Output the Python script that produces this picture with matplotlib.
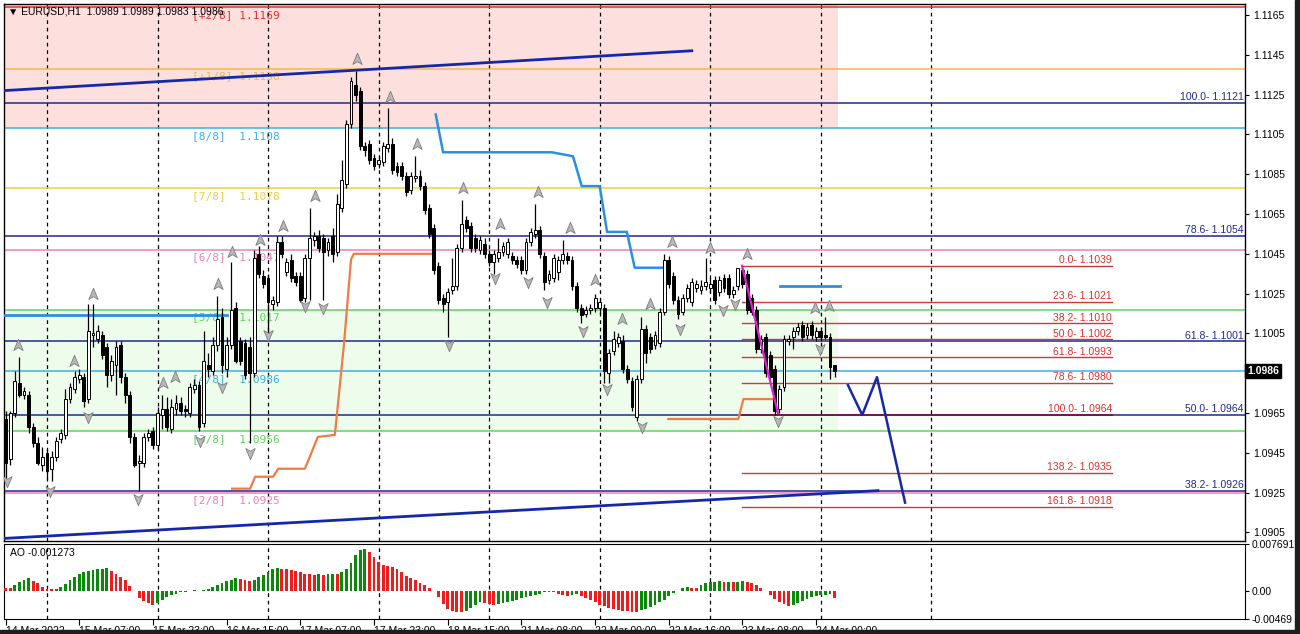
import numpy as np
import matplotlib
matplotlib.use("Agg")
import matplotlib.pyplot as plt
from matplotlib.path import Path
from matplotlib.patches import Rectangle
from matplotlib.transforms import blended_transform_factory

W, H = 1300, 634

# ---- H1 candles (bar index 0..180) ----
opens = [1.0962, 1.0942, 1.0965, 1.0980, 1.0974, 1.0974, 1.0958, 1.0950, 1.0939, 1.0945,
         1.0937, 1.0943, 1.0952, 1.0954, 1.0972, 1.0977, 1.0982, 1.0983, 1.0972, 1.1004,
         1.1002, 1.1004, 1.0998, 1.0984, 1.0989, 1.0999, 1.0983, 1.0974, 1.0953, 1.0940,
         1.0940, 1.0953, 1.0956, 1.0949, 1.0964, 1.0967, 1.0957, 1.0967, 1.0970, 1.0967,
         1.0965, 1.0977, 1.0979, 1.0960, 1.0989, 1.0986, 1.0999, 1.1013, 1.0987, 1.0999,
         1.1018, 1.1001, 1.1000, 1.0998, 1.0985, 1.1045, 1.1034, 1.1033, 1.1020, 1.1021,
         1.1051, 1.1036, 1.1042, 1.1034, 1.1034, 1.1023, 1.1043, 1.1052, 1.1054, 1.1053,
         1.1047, 1.1054, 1.1046, 1.1068, 1.1080, 1.1110, 1.1130, 1.1127, 1.1099, 1.1100,
         1.1093, 1.1090, 1.1091, 1.1098, 1.1100, 1.1089, 1.1089, 1.1084, 1.1077, 1.1083,
         1.1084, 1.1079, 1.1068, 1.1058, 1.1039, 1.1023, 1.1021, 1.1027, 1.1029, 1.1048,
         1.1062, 1.1059, 1.1053, 1.1047, 1.1050, 1.1045, 1.1041, 1.1043, 1.1046, 1.1045,
         1.1044, 1.1042, 1.1042, 1.1037, 1.1051, 1.1055, 1.1057, 1.1044, 1.1032, 1.1033,
         1.1036, 1.1042, 1.1044, 1.1042, 1.1029, 1.1018, 1.1015, 1.1017, 1.1018, 1.1018,
         1.1018, 1.0985, 1.0996, 1.1000, 1.1001, 1.0987, 1.0981, 1.0963, 1.0982, 1.1007,
         1.1003, 1.0999, 1.1000, 1.1016, 1.1042, 1.1034, 1.1022, 1.1016, 1.1023, 1.1021,
         1.1028, 1.1027, 1.1029, 1.1028, 1.1032, 1.1026, 1.1033, 1.1033, 1.1025, 1.1029,
         1.1037, 1.1035, 1.1023, 1.1017, 1.0997, 1.1003, 1.0994, 1.0987, 1.0967, 1.0978,
         1.1001, 1.1003, 1.1006, 1.1009, 1.1004, 1.1009, 1.1003, 1.1006, 1.1004, 1.1003,
         1.0989]
highs = [1.0966, 1.0966, 1.0986, 1.0993, 1.0978, 1.0976, 1.0960, 1.0953, 1.0948, 1.0947,
         1.0946, 1.0953, 1.0957, 1.0977, 1.0980, 1.0986, 1.0987, 1.0985, 1.1020, 1.1020,
         1.1009, 1.1006, 1.1000, 1.0994, 1.1001, 1.1001, 1.0985, 1.0976, 1.0955, 1.0944,
         1.0955, 1.0957, 1.0958, 1.0968, 1.0974, 1.0973, 1.0972, 1.0974, 1.0973, 1.0969,
         1.0980, 1.0982, 1.0981, 1.1006, 1.0995, 1.1003, 1.1024, 1.1018, 1.1003, 1.1041,
         1.1021, 1.1003, 1.1002, 1.1003, 1.1047, 1.1049, 1.1037, 1.1035, 1.1024, 1.1054,
         1.1054, 1.1043, 1.1045, 1.1036, 1.1036, 1.1045, 1.1068, 1.1056, 1.1057, 1.1055,
         1.1053, 1.1058, 1.1075, 1.1092, 1.1112, 1.1134, 1.1137, 1.1129, 1.1101, 1.1102,
         1.1095, 1.1094, 1.1101, 1.1118, 1.1103, 1.1091, 1.1091, 1.1086, 1.1086, 1.1094,
         1.1087, 1.1081, 1.1070, 1.1060, 1.1041, 1.1025, 1.1028, 1.1043, 1.1050, 1.1072,
         1.1064, 1.1061, 1.1055, 1.1054, 1.1053, 1.1047, 1.1047, 1.1053, 1.1051, 1.1053,
         1.1046, 1.1044, 1.1044, 1.1053, 1.1058, 1.1070, 1.1059, 1.1046, 1.1037, 1.1045,
         1.1044, 1.1052, 1.1046, 1.1044, 1.1031, 1.1020, 1.1019, 1.1020, 1.1025, 1.1022,
         1.1020, 1.0997, 1.1006, 1.1005, 1.1004, 1.0989, 1.0983, 1.0984, 1.1013, 1.1009,
         1.1005, 1.1006, 1.1018, 1.1045, 1.1044, 1.1036, 1.1024, 1.1025, 1.1030, 1.1033,
         1.1032, 1.1032, 1.1043, 1.1033, 1.1034, 1.1034, 1.1035, 1.1035, 1.1029, 1.1038,
         1.1039, 1.1037, 1.1025, 1.1019, 1.1004, 1.1005, 1.0996, 1.0989, 1.0979, 1.1004,
         1.1004, 1.1008, 1.1010, 1.1011, 1.1010, 1.1011, 1.1008, 1.1008, 1.1013, 1.1005,
         1.0989]
lows = [1.0932, 1.0939, 1.0963, 1.0973, 1.0972, 1.0955, 1.0948, 1.0939, 1.0936, 1.0932,
        1.0931, 1.0941, 1.0950, 1.0952, 1.0970, 1.0975, 1.0980, 1.0968, 1.0970, 1.0998,
        1.1000, 1.0992, 1.0978, 1.0981, 1.0974, 1.0980, 1.0970, 1.0950, 1.0938, 1.0926,
        1.0938, 1.0951, 1.0947, 1.0947, 1.0957, 1.0956, 1.0955, 1.0964, 1.0964, 1.0963,
        1.0963, 1.0975, 1.0956, 1.0958, 1.0983, 1.0984, 1.0996, 1.0985, 1.0983, 1.0997,
        1.0990, 1.0989, 1.0982, 1.0950, 1.0983, 1.1033, 1.1028, 1.1003, 1.1017, 1.1019,
        1.1043, 1.1034, 1.1031, 1.1029, 1.1021, 1.1021, 1.1022, 1.1049, 1.1046, 1.1022,
        1.1044, 1.1041, 1.1044, 1.1066, 1.1078, 1.1108, 1.1122, 1.1097, 1.1094, 1.1090,
        1.1087, 1.1088, 1.1089, 1.1096, 1.1085, 1.1084, 1.1082, 1.1074, 1.1075, 1.1081,
        1.1077, 1.1065, 1.1053, 1.1035, 1.1020, 1.1016, 1.1003, 1.1025, 1.1027, 1.1046,
        1.1056, 1.1046, 1.1046, 1.1045, 1.1043, 1.1039, 1.1035, 1.1041, 1.1044, 1.1043,
        1.1040, 1.1038, 1.1035, 1.1035, 1.1049, 1.1053, 1.1043, 1.1027, 1.1030, 1.1031,
        1.1032, 1.1040, 1.1040, 1.1027, 1.1016, 1.1010, 1.1013, 1.1015, 1.1016, 1.1015,
        1.0980, 1.0980, 1.0994, 1.0998, 1.0985, 1.0980, 1.0966, 1.0961, 1.0980, 1.0990,
        1.0995, 1.0997, 1.0998, 1.1014, 1.1028, 1.1020, 1.1012, 1.1014, 1.1021, 1.1019,
        1.1026, 1.1025, 1.1027, 1.1026, 1.1020, 1.1024, 1.1026, 1.1023, 1.1023, 1.1027,
        1.1028, 1.1015, 1.1014, 1.0995, 1.0995, 1.0983, 1.0981, 1.0964, 1.0965, 1.0976,
        1.0999, 1.0997, 1.1004, 1.1001, 1.1002, 1.1002, 1.1001, 1.1001, 1.1002, 1.0982,
        1.0983]
closes = [1.0940, 1.0965, 1.0981, 1.0974, 1.0976, 1.0958, 1.0950, 1.0940, 1.0943, 1.0936,
          1.0943, 1.0951, 1.0955, 1.0972, 1.0978, 1.0983, 1.0984, 1.0971, 1.1006, 1.1005,
          1.1006, 1.0994, 1.0984, 1.0991, 1.0998, 1.0983, 1.0974, 1.0953, 1.0939, 1.0941,
          1.0953, 1.0955, 1.0949, 1.0965, 1.0967, 1.0958, 1.0968, 1.0970, 1.0966, 1.0966,
          1.0978, 1.0979, 1.0958, 1.0991, 1.0987, 1.0999, 1.1012, 1.0989, 1.0999, 1.1017,
          1.0991, 1.0991, 1.0984, 1.0985, 1.1043, 1.1035, 1.1030, 1.1021, 1.1022, 1.1051,
          1.1045, 1.1041, 1.1033, 1.1031, 1.1022, 1.1043, 1.1053, 1.1054, 1.1048, 1.1046,
          1.1051, 1.1045, 1.1070, 1.1082, 1.1110, 1.1132, 1.1125, 1.1099, 1.1097, 1.1092,
          1.1089, 1.1092, 1.1099, 1.1100, 1.1087, 1.1086, 1.1084, 1.1076, 1.1084, 1.1084,
          1.1079, 1.1067, 1.1055, 1.1037, 1.1022, 1.1020, 1.1026, 1.1029, 1.1048, 1.1060,
          1.1058, 1.1048, 1.1048, 1.1052, 1.1045, 1.1041, 1.1045, 1.1046, 1.1049, 1.1051,
          1.1042, 1.1040, 1.1037, 1.1051, 1.1056, 1.1057, 1.1045, 1.1031, 1.1035, 1.1043,
          1.1042, 1.1045, 1.1042, 1.1029, 1.1018, 1.1014, 1.1017, 1.1018, 1.1023, 1.1021,
          1.0986, 1.0995, 1.1002, 1.1003, 1.0987, 1.0982, 1.0968, 1.0982, 1.1007, 1.0995,
          1.0997, 1.1004, 1.1016, 1.1042, 1.1030, 1.1022, 1.1015, 1.1023, 1.1028, 1.1031,
          1.1030, 1.1029, 1.1031, 1.1030, 1.1022, 1.1032, 1.1028, 1.1025, 1.1027, 1.1038,
          1.1030, 1.1017, 1.1016, 1.0997, 1.1002, 1.0985, 1.0983, 1.0966, 1.0977, 1.1002,
          1.1002, 1.1006, 1.1008, 1.1003, 1.1008, 1.1004, 1.1006, 1.1003, 1.1003, 1.0988,
          1.0986]

# ---- Awesome Oscillator ----
ao = [0.0005, 0.0004, 0.0009, 0.0014, 0.0018, 0.0021, 0.0016, 0.0012, 0.0006, 0.0003,
      0.0002, 0.0003, 0.0006, 0.0011, 0.0017, 0.0022, 0.0027, 0.0030, 0.0032, 0.0034,
      0.0035, 0.0036, 0.0037, 0.0032, 0.0028, 0.0023, 0.0017, 0.0007, -0.0001, -0.0012,
      -0.0018, -0.0021, -0.0023, -0.0020, -0.0015, -0.0011, -0.0008, -0.0005, -0.0003, -0.0002,
      -0.0001, 0.00002, -0.0001, 0.0001, 0.0003, 0.0006, 0.0010, 0.0013, 0.0016, 0.0018,
      0.0020, 0.0019, 0.0018, 0.0016, 0.0018, 0.0022, 0.0026, 0.0030, 0.0035, 0.0037,
      0.0036, 0.0035, 0.0034, 0.0032, 0.0030, 0.0028, 0.0027, 0.0026, 0.0027, 0.0026,
      0.0027, 0.0028, 0.0027, 0.0030, 0.0036, 0.0045, 0.0058, 0.0067, 0.0068, 0.0063,
      0.0056, 0.0048, 0.0043, 0.0041, 0.0039, 0.0035, 0.0030, 0.0024, 0.0020, 0.0017,
      0.0013, 0.0010, 0.0005, -0.0001, -0.0011, -0.0022, -0.0030, -0.0033, -0.0035, -0.0036,
      -0.0034, -0.0028, -0.0023, -0.0019, -0.0020, -0.0022, -0.0023, -0.0022, -0.0020, -0.0019,
      -0.0017, -0.0015, -0.0013, -0.0011, -0.0009, -0.0007, -0.0005, -0.0003, -0.0002, -0.0003,
      -0.0005, -0.0008, -0.0009, -0.0007, -0.0006, -0.0009, -0.0012, -0.0015, -0.0019, -0.0023,
      -0.0026, -0.0029, -0.0031, -0.0032, -0.0033, -0.0034, -0.0035, -0.0036, -0.0032, -0.0030,
      -0.0027, -0.0023, -0.0019, -0.0015, -0.0009, -0.0004, -0.0001, 0.0004, 0.0006, 0.0005,
      0.0004, 0.0009, 0.0012, 0.0014, 0.0015, 0.0016, 0.0014, 0.0015, 0.0014, 0.0015,
      0.0016, 0.0015, 0.0013, 0.0009, 0.0005, -0.0001, -0.0008, -0.0014, -0.0019, -0.0022,
      -0.0026, -0.0024, -0.0021, -0.0018, -0.0014, -0.0011, -0.0009, -0.0008, -0.0007, -0.0006,
      -0.0013]

# ---- Murrey math levels ----
mm_names = ["[+2/8]", "[+1/8]", "[8/8]", "[7/8]", "[6/8]", "[5/8]", "[4/8]", "[3/8]", "[2/8]"]
mm_levels = [1.1169, 1.1138, 1.1108, 1.1078, 1.1047, 1.1017, 1.0986, 1.0956, 1.0925]
mm_colors = ["#e8322d", "#f5b84a", "#3cb0e8", "#f0cf3c", "#f07fb6", "#5cd65c",
             "#3cb0e8", "#5cd65c", "#f07fb6"]

# ---- Fibonacci (long swing, navy) ----
fibL_pct = ["100.0", "78.6", "61.8", "50.0", "38.2"]
fibL_prices = [1.1121, 1.1054, 1.1001, 1.0964, 1.0926]

# ---- Fibonacci (short swing, red) ----
fibS_pct = ["0.0", "23.6", "38.2", "50.0", "61.8", "78.6", "100.0", "138.2", "161.8"]
fibS_prices = [1.1039, 1.1021, 1.1010, 1.1002, 1.0993, 1.0980, 1.0964, 1.0935, 1.0918]
fibS_span = [159.9, 240.2]
fib_swing_x = [159.9, 167.7]
fib_swing_y = [1.1039, 1.0965]

# ---- channel lines ----
chan_up_x, chan_up_y = [-0.3, 149.0], [1.1127, 1.1147]
chan_lo_x, chan_lo_y = [-0.3, 189.4], [1.0902, 1.0926]

# ---- trailing stop lines ----
orange1_x = [49.2, 53.1, 54.2, 58.1, 59.2, 65.0, 67.8, 71.5, 73.5, 75.0, 75.6, 92.6]
orange1_y = [1.0927, 1.0927, 1.0933, 1.0933, 1.0937, 1.0937, 1.0953, 1.0954, 1.1000, 1.1042, 1.1045, 1.1045]
orange2_x = [143.9, 159.1, 160.2, 167.0]
orange2_y = [1.0962, 1.0962, 1.0972, 1.0972]
blue_x = [93.4, 95.0, 118.6, 123.2, 125.1, 129.0, 130.6, 134.9, 136.6, 142.7]
blue_y = [1.1115, 1.1096, 1.1096, 1.1094, 1.1079, 1.1079, 1.1056, 1.1056, 1.1038, 1.1038]
blue_left_x, blue_left_y = [-0.3, 48.1], [1.1014, 1.1014]
blue_right_x, blue_right_y = [168.1, 181.1], [1.1029, 1.1029]

# ---- projected path ----
proj_x = [182.9, 186.0, 189.2, 195.3]
proj_y = [1.0979, 1.0964, 1.0983, 1.0920]

# ---- fractals ----
frac_up_x = [2.7, 19.0, 14.9, 34.2, 36.8, 46.1, 49.2, 55.2, 60.2, 67.2, 76.3, 83.5, 89.3,
             99.3, 107.3, 115.6, 122.5, 128.0, 133.8, 139.9, 144.7, 152.9, 161.0, 175.7, 178.8]
frac_up_y = [1.0999, 1.1025, 1.0991, 1.0980, 1.0983, 1.1030, 1.1046, 1.1052, 1.1059, 1.1074,
             1.1143, 1.1124, 1.1100, 1.1078, 1.1060, 1.1076, 1.1058, 1.1032, 1.1012, 1.1020,
             1.1051, 1.1048, 1.1045, 1.1018, 1.1019]
frac_dn_x = [0.3, 9.7, 17.9, 28.8, 42.2, 47.0, 53.1, 57.0, 65.0, 68.9, 96.3, 106.3, 113.4,
             117.5, 125.4, 130.6, 138.2, 146.4, 155.7, 158.3, 167.7, 176.8]
frac_dn_y = [1.0931, 1.0926, 1.0963, 1.0922, 1.0951, 1.0978, 1.0945, 1.1004, 1.1019, 1.1018,
             1.0999, 1.1033, 1.1031, 1.1021, 1.1006, 1.0977, 1.0958, 1.1007, 1.1017, 1.1020,
             1.0961, 1.0997]

price_ticks = [1.1165, 1.1145, 1.1125, 1.1105, 1.1085, 1.1065, 1.1045, 1.1025,
               1.1005, 1.0965, 1.0945, 1.0925, 1.0905]
time_ticks = [0, 16, 32, 48, 64, 80, 96, 112, 128, 144, 160, 176]
time_labels = ["14 Mar 2022", "15 Mar 07:00", "15 Mar 23:00", "16 Mar 15:00", "17 Mar 07:00",
               "17 Mar 23:00", "18 Mar 15:00", "21 Mar 08:00", "22 Mar 00:00", "22 Mar 16:00",
               "23 Mar 08:00", "24 Mar 00:00"]
grid_x = [9, 33, 57, 81, 105, 129, 153, 177, 201]
header = "\u25bc EURUSD,H1  1.0989 1.0989 1.0983 1.0986"
last_price = 1.0986
ao_label = "AO -0.001273"

XMIN, XMAX = -0.33, 269.1
NAVY = "#1f2a8c"
FIBRED = "#c83c3c"

plt.rcParams["font.family"] = ["Liberation Sans", "DejaVu Sans"]

fig = plt.figure(figsize=(W / 100, H / 100), dpi=100)
ax = fig.add_axes([4 / W, 1 - 541 / H, 1241 / W, 537 / H])
ax2 = fig.add_axes([4 / W, 1 - 619 / H, 1241 / W, 75 / H])

# shaded murrey zones
shade_end = len(closes) - 0.3
ax.fill_between([XMIN, shade_end], mm_levels[2], mm_levels[0] + 0.0005, color="#fde0de", lw=0, zorder=0)
ax.fill_between([XMIN, shade_end], mm_levels[7], mm_levels[5], color="#eefcec", lw=0, zorder=0)

for gx in grid_x:
    for a in (ax, ax2):
        a.axvline(gx, color="black", lw=0.9, ls=(0, (3, 3)), zorder=1)

# murrey lines and labels
for name, lvl, col in zip(mm_names, mm_levels, mm_colors):
    ax.axhline(lvl, color=col, lw=1.1, zorder=2)
    ax.annotate(f"{name.ljust(7)}{lvl:.4f}", (40.5, lvl), xytext=(0, -2), textcoords="offset points",
                va="top", ha="left", color=col, fontsize=8, family="DejaVu Sans Mono", zorder=3)

# long fib (navy)
for pct, p in zip(fibL_pct, fibL_prices):
    ax.axhline(p, color=NAVY, lw=1.1, zorder=2)
    ax.annotate(f"{pct}- {p:.4f}", (XMAX - 0.3, p), xytext=(0, 0.5), textcoords="offset points",
                va="bottom", ha="right", color=NAVY, fontsize=7.5, zorder=3)

# short fib (red)
for pct, p in zip(fibS_pct, fibS_prices):
    col = "#7a1248" if pct == "100.0" else FIBRED
    ax.plot(fibS_span, [p, p], color=col, lw=1.3 if pct == "100.0" else 1.0, zorder=3)
    ax.annotate(f"{pct}- {p:.4f}", (fibS_span[1], p), xytext=(0, 0.5), textcoords="offset points",
                va="bottom", ha="right", color="#e0302a", fontsize=7.5, zorder=3)
ax.plot(fib_swing_x, fib_swing_y, color="#e020d8", lw=1.6, zorder=7)

# channel
ax.plot(chan_up_x, chan_up_y, color="#1428a8", lw=2, zorder=4)
ax.plot(chan_lo_x, chan_lo_y, color="#1428a8", lw=2, zorder=4)

# trailing stops
ax.plot(orange1_x, orange1_y, color="#f07b45", lw=1.6, zorder=4)
ax.plot(orange2_x, orange2_y, color="#f07b45", lw=1.6, zorder=4)
ax.plot(blue_x, blue_y, color="#2b8fe0", lw=1.8, zorder=4)
ax.plot(blue_left_x, blue_left_y, color="#2b8fe0", lw=2, zorder=4)
ax.plot(blue_right_x, blue_right_y, color="#2b8fe0", lw=2, zorder=4)

# projection
ax.plot(proj_x, proj_y, color="#1428a8", lw=1.8, zorder=4)

# candles
x = np.arange(len(closes))
o, h, l, c = map(np.array, (opens, highs, lows, closes))
up = c >= o
ax.vlines(x, l, h, color="black", lw=0.9, zorder=5)
ax.bar(x[up], np.maximum(c[up] - o[up], 0.00002), bottom=o[up], width=0.62,
       color="white", edgecolor="black", lw=0.7, zorder=6)
ax.bar(x[~up], o[~up] - c[~up], bottom=c[~up], width=0.62,
       color="black", edgecolor="black", lw=0.7, zorder=6)

# fractal arrows
up_arrow = Path([(0, 1), (0.75, -0.8), (0, -0.35), (-0.75, -0.8), (0, 1)],
                [Path.MOVETO, Path.LINETO, Path.LINETO, Path.LINETO, Path.CLOSEPOLY])
dn_arrow = Path([(0, -1), (0.75, 0.8), (0, 0.35), (-0.75, 0.8), (0, -1)],
                [Path.MOVETO, Path.LINETO, Path.LINETO, Path.LINETO, Path.CLOSEPOLY])
ax.scatter(frac_up_x, frac_up_y, marker=up_arrow, s=80, color="#b8b8b8",
           edgecolor="#7c7c7c", lw=0.6, zorder=7)
ax.scatter(frac_dn_x, frac_dn_y, marker=dn_arrow, s=80, color="#b8b8b8",
           edgecolor="#7c7c7c", lw=0.6, zorder=7)

ax.set_xlim(XMIN, XMAX)
ax.set_ylim(1.09007, 1.11705)
ax.yaxis.tick_right()
ax.set_yticks(price_ticks)
ax.set_yticklabels([f"{t:.4f}" for t in price_ticks])
ax.set_xticks([])
ax.tick_params(axis="y", length=3, width=0.8, pad=3, labelsize=7.5, colors="black")
for s in ax.spines.values():
    s.set_linewidth(1)

# current price box
tr = blended_transform_factory(ax.transAxes, ax.transData)
ax.text(1.002, last_price, f"{last_price:.4f}", transform=tr, va="center", ha="left",
        color="white", fontsize=7.5, fontweight="bold",
        bbox=dict(boxstyle="square,pad=0.2", fc="black", ec="black"), zorder=10, clip_on=False)

# AO histogram
aov = np.array(ao)
prev = np.concatenate([[aov[0] + 1], aov[:-1]])
cols = np.where(aov > prev, "#0a8a0a", "#ee1c1c")
ax2.bar(x, aov, width=0.62, color=cols, lw=0, zorder=3)
ax2.set_xlim(XMIN, XMAX)
ax2.set_ylim(-0.00469, 0.007691)
ax2.yaxis.tick_right()
ax2.set_yticks([0.007691, 0.0, -0.00469])
ax2.set_yticklabels(["0.007691", "0.00", "-0.00469"])
ax2.tick_params(axis="y", length=3, width=0.8, pad=2, labelsize=7.5)
ax2.set_xticks(time_ticks)
ax2.set_xticklabels(time_labels, ha="left")
ax2.tick_params(axis="x", length=4, width=0.8, pad=1, labelsize=7.5)
ax2.text(0.005, 0.88, ao_label, transform=ax2.transAxes, fontsize=7.5, va="center", ha="left")

fig.text(8 / W, 1 - 12 / H, header, fontsize=7.5, va="center", ha="left", zorder=20)

# screenshot frame strips
fig.patches.append(Rectangle((0, 0), 1, 4 / H, transform=fig.transFigure, color="#1e1e1e", zorder=50))
fig.patches.append(Rectangle((1295 / W, 0), 5 / W, 1, transform=fig.transFigure, color="#1e1e1e", zorder=50))

fig.savefig("out.png", dpi=100)
